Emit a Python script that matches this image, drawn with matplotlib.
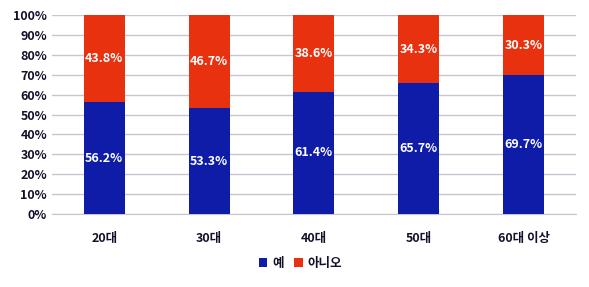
import numpy as np
import matplotlib.pyplot as plt
from matplotlib.ticker import PercentFormatter

plt.rcParams['font.family'] = ['Noto Sans CJK KR', 'DejaVu Sans']

categories = ['20대', '30대', '40대', '50대', '60대 이상']
yes = [56.2, 53.3, 61.4, 65.7, 69.7]
no = [43.8, 46.7, 38.6, 34.3, 30.3]

blue = '#0e1ca8'
red = '#e8320f'

fig = plt.figure(figsize=(5.89, 2.87), dpi=100)
ax = fig.add_axes([0.088, 0.254, 0.890, 0.694])

x = np.arange(len(categories))
w = 0.39
ax.bar(x, yes, w, color=blue, label='예', zorder=3)
ax.bar(x, no, w, bottom=yes, color=red, label='아니오', zorder=3)

for i in range(len(x)):
    ax.text(x[i], yes[i] / 2, f'{yes[i]}%', ha='center', va='center',
            color='white', fontsize=9, fontweight='bold', zorder=4)
    ax.text(x[i], yes[i] + no[i] / 2, f'{no[i]}%', ha='center', va='center',
            color='white', fontsize=9, fontweight='bold', zorder=4)

ax.set_xlim(-0.5, len(x) - 0.5)
ax.set_ylim(0, 100)
ax.set_yticks(np.arange(0, 101, 10))
ax.yaxis.set_major_formatter(PercentFormatter(decimals=0))
ax.set_xticks(x)
ax.set_xticklabels(categories)
ax.grid(axis='y', color='#c8c4d0', linewidth=1, zorder=0)
for s in ['top', 'right', 'left']:
    ax.spines[s].set_visible(False)
ax.spines['bottom'].set_color('#c8c4d0')
ax.tick_params(axis='both', length=0, labelsize=9, labelcolor='#15102a')
ax.tick_params(axis='x', pad=13)
for lab in ax.get_xticklabels() + ax.get_yticklabels():
    lab.set_fontweight('bold')

leg = fig.legend(loc='center', bbox_to_anchor=(0.51, 0.083), ncol=2, frameon=False,
                 fontsize=9, handlelength=0.7, handleheight=0.7, handletextpad=0.4,
                 columnspacing=0.8)
for t in leg.get_texts():
    t.set_fontweight('bold')
    t.set_color('#15102a')

fig.savefig('out.png', dpi=100)
